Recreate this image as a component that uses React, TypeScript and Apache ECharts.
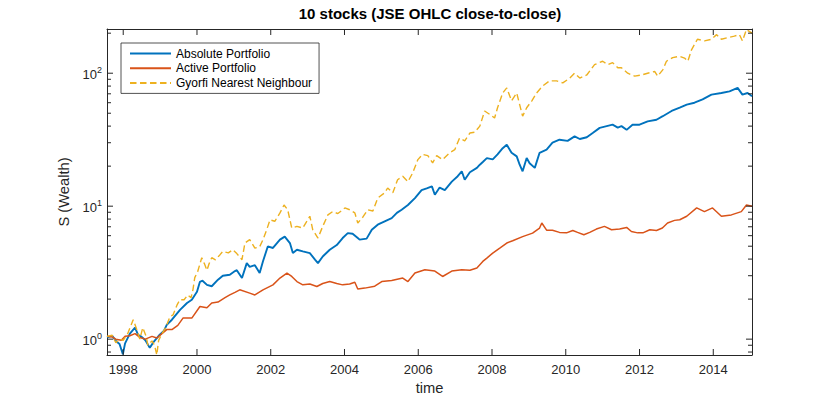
import React, { useEffect, useRef } from "react";
import * as echarts from "echarts";

const X_MIN = 1997.56;
const X_MAX = 2015.05;
const Y_MIN = 0.76;
const Y_MAX = 215;

const yearTicks = [1998, 2000, 2002, 2004, 2006, 2008, 2010, 2012, 2014];
const decadeTicks = [1, 10, 100];
const minorTicks = [0.8, 0.9, 2, 3, 4, 5, 6, 7, 8, 9, 20, 30, 40, 50, 60, 70, 80, 90, 200];

const seriesNames = ["Absolute Portfolio", "Active Portfolio", "Gyorfi Nearest Neighbour"];

// [year, wealth]
const absolutePortfolio: [number, number][] = [
  [1997.56, 1.03], [1997.7, 1.06], [1997.8, 0.97], [1997.9, 0.92], [1997.99, 0.77], [1998.05, 0.93],
  [1998.18, 1.1], [1998.32, 1.22], [1998.4, 1.08], [1998.5, 1.04], [1998.6, 0.98], [1998.72, 0.86],
  [1998.82, 0.95], [1998.99, 1.08], [1999.1, 1.15], [1999.18, 1.28], [1999.32, 1.4], [1999.54, 1.66],
  [1999.73, 1.87], [1999.86, 1.98], [2000.0, 2.27], [2000.08, 2.7], [2000.15, 2.75], [2000.27, 2.56],
  [2000.4, 2.5], [2000.57, 2.8], [2000.7, 3.0], [2000.89, 3.05], [2001.03, 3.25], [2001.08, 3.3],
  [2001.22, 2.88], [2001.35, 3.73], [2001.43, 3.5], [2001.57, 3.6], [2001.7, 3.14], [2001.79, 3.85],
  [2001.92, 4.98], [2002.06, 4.85], [2002.25, 5.6], [2002.38, 5.9], [2002.52, 5.28], [2002.6, 4.44],
  [2002.71, 4.7], [2002.87, 4.57], [2003.06, 4.44], [2003.2, 3.96], [2003.28, 3.73], [2003.41, 4.18],
  [2003.6, 4.7], [2003.79, 5.1], [2003.95, 5.76], [2004.09, 6.27], [2004.22, 6.2], [2004.36, 5.76],
  [2004.41, 5.6], [2004.6, 5.7], [2004.74, 6.64], [2004.9, 7.26], [2005.09, 7.7], [2005.28, 8.14],
  [2005.42, 8.9], [2005.55, 9.4], [2005.72, 10.2], [2005.91, 11.5], [2006.09, 13.2], [2006.23, 13.6],
  [2006.37, 14.1], [2006.45, 12.2], [2006.58, 13.8], [2006.72, 13.2], [2006.91, 15.3], [2007.07, 16.8],
  [2007.18, 18.3], [2007.26, 15.8], [2007.4, 18.0], [2007.59, 19.4], [2007.67, 20.5], [2007.75, 21.5],
  [2007.86, 23.0], [2008.02, 22.5], [2008.15, 24.5], [2008.29, 27.3], [2008.4, 29.0], [2008.53, 25.2],
  [2008.67, 23.7], [2008.75, 20.5], [2008.83, 18.3], [2008.94, 23.0], [2009.02, 21.0], [2009.16, 19.4],
  [2009.29, 25.2], [2009.48, 26.6], [2009.64, 30.0], [2009.83, 31.6], [2010.05, 31.0], [2010.24, 33.5],
  [2010.38, 32.0], [2010.57, 33.0], [2010.73, 35.5], [2010.92, 38.8], [2011.11, 40.0], [2011.27, 41.0],
  [2011.41, 39.0], [2011.51, 40.0], [2011.65, 37.5], [2011.81, 41.0], [2012.0, 41.0], [2012.22, 43.4],
  [2012.46, 44.7], [2012.63, 47.5], [2012.87, 52.0], [2013.09, 55.0], [2013.28, 58.0], [2013.49, 60.0],
  [2013.71, 63.5], [2013.95, 69.0], [2014.22, 71.0], [2014.44, 73.0], [2014.66, 77.5], [2014.79, 69.0],
  [2014.93, 71.0], [2015.05, 67.0],
];

const activePortfolio: [number, number][] = [
  [1997.56, 1.05], [1997.7, 1.04], [1997.8, 1.0], [1997.95, 0.98], [1998.05, 1.05], [1998.18, 1.06],
  [1998.32, 1.1], [1998.45, 1.03], [1998.6, 1.0], [1998.78, 1.05], [1998.91, 1.02], [1999.05, 1.1],
  [1999.18, 1.18], [1999.32, 1.18], [1999.48, 1.27], [1999.62, 1.44], [1999.86, 1.44], [2000.08, 1.76],
  [2000.27, 1.72], [2000.4, 1.87], [2000.57, 1.9], [2000.76, 2.05], [2000.89, 2.15], [2001.03, 2.25],
  [2001.16, 2.35], [2001.43, 2.22], [2001.57, 2.15], [2001.79, 2.35], [2002.06, 2.56], [2002.25, 2.88],
  [2002.44, 3.14], [2002.57, 2.96], [2002.71, 2.71], [2002.87, 2.56], [2003.06, 2.6], [2003.25, 2.49],
  [2003.41, 2.62], [2003.6, 2.71], [2003.79, 2.62], [2003.95, 2.56], [2004.14, 2.6], [2004.28, 2.68],
  [2004.36, 2.38], [2004.55, 2.42], [2004.82, 2.5], [2005.01, 2.71], [2005.28, 2.76], [2005.58, 2.88],
  [2005.72, 2.71], [2005.91, 3.14], [2006.18, 3.33], [2006.45, 3.25], [2006.66, 2.96], [2006.91, 3.25],
  [2007.18, 3.33], [2007.4, 3.3], [2007.59, 3.43], [2007.75, 3.84], [2007.86, 4.07], [2008.02, 4.44],
  [2008.21, 4.84], [2008.4, 5.28], [2008.56, 5.5], [2008.83, 5.9], [2009.1, 6.27], [2009.29, 6.85],
  [2009.35, 7.47], [2009.48, 6.6], [2009.64, 6.6], [2009.83, 6.35], [2010.02, 6.3], [2010.19, 6.57],
  [2010.32, 6.35], [2010.49, 6.1], [2010.65, 6.35], [2010.83, 6.73], [2011.05, 7.05], [2011.24, 6.65],
  [2011.46, 6.73], [2011.65, 6.92], [2011.78, 6.45], [2011.95, 6.3], [2012.09, 6.3], [2012.28, 6.65],
  [2012.46, 6.57], [2012.62, 6.85], [2012.76, 7.47], [2012.95, 7.82], [2013.09, 7.9], [2013.28, 8.4],
  [2013.55, 9.7], [2013.76, 9.1], [2013.98, 9.7], [2014.22, 8.4], [2014.49, 8.6], [2014.76, 9.1],
  [2014.9, 10.2], [2015.05, 10.0],
];

const gyorfiNN: [number, number][] = [
  [1997.56, 1.05], [1997.7, 1.07], [1997.8, 0.94], [1997.9, 1.0], [1998.0, 0.98], [1998.12, 1.1],
  [1998.27, 1.4], [1998.35, 1.22], [1998.45, 1.0], [1998.53, 1.22], [1998.62, 1.05], [1998.67, 0.9],
  [1998.78, 0.97], [1998.85, 0.9], [1998.91, 0.76], [1998.96, 0.98], [1999.05, 1.1], [1999.15, 1.22],
  [1999.27, 1.48], [1999.35, 1.52], [1999.46, 1.81], [1999.54, 1.98], [1999.65, 1.98], [1999.75, 2.15],
  [1999.84, 2.05], [1999.89, 2.35], [1999.94, 2.9], [2000.02, 3.23], [2000.07, 3.6], [2000.13, 4.1],
  [2000.2, 3.7], [2000.27, 3.3], [2000.33, 3.7], [2000.4, 4.1], [2000.5, 3.95], [2000.62, 4.3],
  [2000.7, 4.57], [2000.85, 4.45], [2000.97, 4.7], [2001.08, 4.4], [2001.22, 3.96], [2001.3, 5.28],
  [2001.43, 5.6], [2001.57, 4.84], [2001.7, 4.95], [2001.79, 5.6], [2001.89, 6.64], [2001.98, 7.9],
  [2002.11, 7.7], [2002.25, 8.9], [2002.36, 10.2], [2002.46, 9.4], [2002.57, 6.85], [2002.71, 7.05],
  [2002.87, 6.85], [2003.06, 8.4], [2003.14, 6.64], [2003.28, 5.76], [2003.41, 7.05], [2003.55, 8.6],
  [2003.68, 9.1], [2003.82, 8.8], [2004.01, 9.7], [2004.14, 9.4], [2004.28, 8.9], [2004.36, 7.47],
  [2004.5, 8.3], [2004.63, 9.4], [2004.77, 9.2], [2004.9, 11.5], [2005.09, 12.6], [2005.17, 13.7],
  [2005.31, 12.6], [2005.44, 15.8], [2005.58, 16.8], [2005.72, 15.3], [2005.85, 17.8], [2005.99, 22.4],
  [2006.12, 24.5], [2006.26, 24.0], [2006.39, 21.2], [2006.5, 24.0], [2006.66, 22.4], [2006.85, 25.2],
  [2006.99, 26.6], [2007.12, 32.5], [2007.26, 31.0], [2007.4, 35.5], [2007.53, 36.0], [2007.67, 40.0],
  [2007.8, 52.0], [2007.94, 49.0], [2008.07, 46.0], [2008.15, 55.0], [2008.29, 71.0], [2008.4, 77.5],
  [2008.53, 62.0], [2008.67, 71.0], [2008.75, 58.0], [2008.83, 47.5], [2008.94, 55.0], [2009.08, 62.0],
  [2009.21, 71.0], [2009.37, 80.0], [2009.56, 87.5], [2009.75, 87.5], [2009.92, 84.5], [2010.11, 92.0],
  [2010.24, 100], [2010.38, 92.0], [2010.57, 97.0], [2010.78, 116], [2011.0, 123], [2011.14, 116],
  [2011.27, 120], [2011.41, 110], [2011.51, 110], [2011.68, 100], [2011.87, 95], [2012.06, 97],
  [2012.22, 100], [2012.41, 103], [2012.49, 95], [2012.63, 106], [2012.73, 123], [2012.9, 131],
  [2013.09, 134], [2013.22, 130], [2013.31, 123], [2013.41, 150], [2013.57, 180], [2013.76, 175],
  [2013.95, 180], [2014.09, 195], [2014.22, 180], [2014.39, 185], [2014.57, 190], [2014.71, 195],
  [2014.79, 175], [2014.9, 213], [2015.05, 200],
];

const COLORS = ["#0072BD", "#D95319", "#EDB120"];
const AXIS = "#262626";
const FONT = "'Liberation Sans', Arial, Helvetica, sans-serif";

function tickLine(x1: number, y1: number, x2: number, y2: number) {
  return {
    type: "line",
    shape: { x1, y1, x2, y2 },
    style: { stroke: AXIS, lineWidth: 1 },
    silent: true,
  };
}

function buildOption(): any {
  const lineAxis = { show: true, onZero: false, lineStyle: { color: AXIS, width: 1 } };
  const baseX = { type: "value", min: X_MIN, max: X_MAX, splitNumber: 8, splitLine: { show: false }, axisTick: { show: false } };
  const baseY = { type: "log", logBase: 10, min: Y_MIN, max: Y_MAX, splitLine: { show: false }, axisTick: { show: false } };

  const yTickData = [
    ...decadeTicks.map((v) => [X_MIN, v, 6]),
    ...minorTicks.map((v) => [X_MIN, v, 4]),
  ];
  const xTickData = yearTicks.map((t) => [t, Y_MIN, 6]);

  return {
    animation: false,
    backgroundColor: "#ffffff",
    textStyle: { fontFamily: FONT },
    title: {
      text: "10 stocks (JSE OHLC close-to-close)",
      left: 430,
      top: 6,
      textAlign: "center",
      padding: 0,
      textStyle: { fontSize: 15, fontWeight: "bold", color: "#000", fontFamily: FONT },
    },
    legend: {
      data: seriesNames,
      orient: "vertical",
      left: 121,
      top: 43,
      itemWidth: 41,
      itemHeight: 13,
      itemGap: 1.7,
      padding: [4, 7, 4, 8],
      borderColor: AXIS,
      borderWidth: 0.8,
      borderRadius: 0,
      backgroundColor: "#ffffff",
      itemStyle: { opacity: 0 },
      textStyle: { fontSize: 12, lineHeight: 13, color: "#000", fontFamily: FONT },
    },
    grid: { left: 107, top: 29, width: 645, height: 326, containLabel: false, outerBoundsMode: "none" },
    xAxis: [
      {
        ...baseX,
        position: "bottom",
        axisLine: lineAxis,
        axisLabel: {
          customValues: yearTicks,
          formatter: (v: number) => String(v),
          color: AXIS,
          fontSize: 13,
          fontFamily: FONT,
          margin: 8,
        },
        name: "time",
        nameLocation: "middle",
        nameGap: 25,
        nameTextStyle: { fontSize: 14.7, color: AXIS, fontFamily: FONT },
      },
      { ...baseX, position: "top", axisLine: lineAxis, axisLabel: { show: false } },
    ],
    yAxis: [
      {
        ...baseY,
        position: "left",
        axisLine: lineAxis,
        axisLabel: {
          customValues: decadeTicks,
          margin: 5,
          formatter: (v: number) => {
            const e = Math.round(Math.log10(v));
            if (Math.abs(v - Math.pow(10, e)) > 1e-6 * v) return "";
            return "{b|10}{e|" + e + "}";
          },
          rich: {
            b: { fontSize: 13, color: AXIS, fontFamily: FONT, verticalAlign: "bottom" },
            e: { fontSize: 9, color: AXIS, fontFamily: FONT, verticalAlign: "bottom", padding: [0, 0, 7, 0] },
          },
        },
        name: "S (Wealth)",
        nameLocation: "middle",
        nameGap: 36,
        nameRotate: 90,
        nameTextStyle: { fontSize: 14.7, color: AXIS, fontFamily: FONT },
      },
      { ...baseY, position: "right", axisLine: lineAxis, axisLabel: { show: false } },
    ],
    series: [
      {
        name: seriesNames[0],
        type: "line",
        data: absolutePortfolio,
        symbol: "none",
        color: COLORS[0],
        lineStyle: { color: COLORS[0], width: 1.9 },
      },
      {
        name: seriesNames[1],
        type: "line",
        data: activePortfolio,
        symbol: "none",
        color: COLORS[1],
        lineStyle: { color: COLORS[1], width: 1.5 },
      },
      {
        name: seriesNames[2],
        type: "line",
        data: gyorfiNN,
        symbol: "none",
        color: COLORS[2],
        lineStyle: { color: COLORS[2], width: 1.4, type: [6.5, 3.5] },
      },
      {
        name: "yTicks",
        type: "custom",
        data: yTickData,
        silent: true,
        clip: false,
        z: 10,
        renderItem: (_p: any, api: any) => {
          const v = api.value(1);
          const len = api.value(2);
          const pl = api.coord([X_MIN, v]);
          const pr = api.coord([X_MAX, v]);
          return {
            type: "group",
            children: [tickLine(pl[0], pl[1], pl[0] + len, pl[1]), tickLine(pr[0] - len, pr[1], pr[0], pr[1])],
          };
        },
      },
      {
        name: "xTicks",
        type: "custom",
        data: xTickData,
        silent: true,
        clip: false,
        z: 10,
        renderItem: (_p: any, api: any) => {
          const t = api.value(0);
          const len = api.value(2);
          const pb = api.coord([t, Y_MIN]);
          const pt = api.coord([t, Y_MAX]);
          return {
            type: "group",
            children: [tickLine(pb[0], pb[1], pb[0], pb[1] - len), tickLine(pt[0], pt[1], pt[0], pt[1] + len)],
          };
        },
      },
    ],
  };
}

export default function App() {
  const ref = useRef<HTMLDivElement>(null);
  useEffect(() => {
    if (!ref.current) return;
    const chart = echarts.init(ref.current, undefined, { renderer: "svg" });
    chart.setOption(buildOption());
    return () => chart.dispose();
  }, []);
  return (
    <div
      ref={ref}
      style={{ position: "fixed", left: 0, top: 0, width: 830, height: 399, background: "#fff" }}
    />
  );
}
